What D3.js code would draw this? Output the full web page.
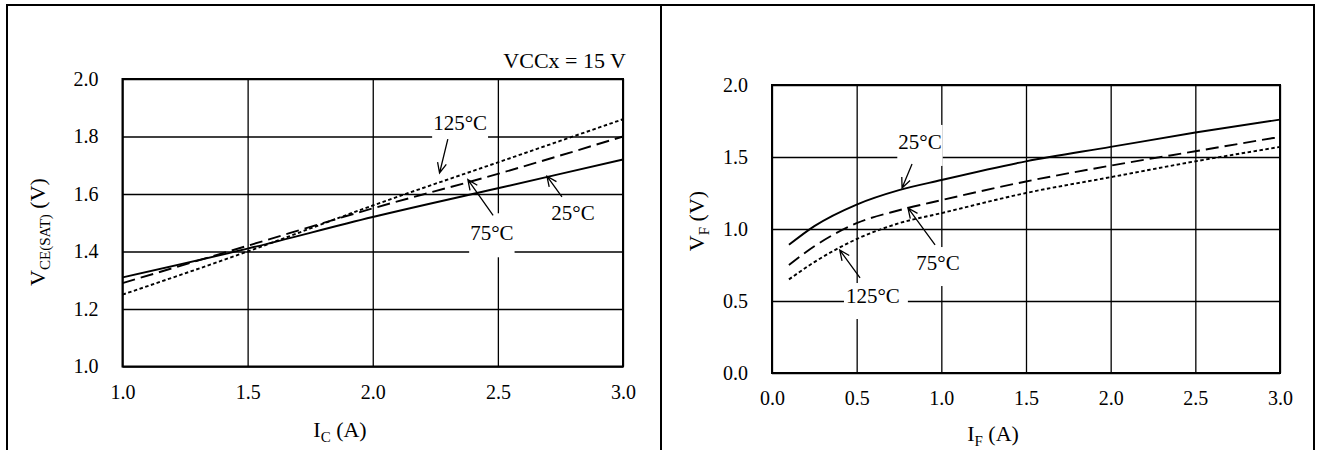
<!DOCTYPE html>
<html><head><meta charset="utf-8">
<script src="https://cdn.jsdelivr.net/npm/d3@7"></script>
<style>
body{margin:0;background:#fff;}
svg text{font-family:"Liberation Serif","Times New Roman",serif;fill:#000;}
</style></head>
<body><svg id="c" width="1320" height="450"></svg>
<script>
// ---- Left chart data: VCE(SAT) vs IC ----
const icValues = [1.0, 1.5, 2.0, 2.5, 3.0];
const vce25 = [1.31, 1.41, 1.52, 1.62, 1.72];
const vce75 = [1.29, 1.42, 1.55, 1.67, 1.80];
const vce125 = [1.25, 1.40, 1.56, 1.71, 1.86];
const leftXTicks = [1.0, 1.5, 2.0, 2.5, 3.0];
const leftYTicks = [1.0, 1.2, 1.4, 1.6, 1.8, 2.0];

// ---- Right chart data: VF vs IF ----
const ifValues = [0.1, 0.25, 0.5, 0.75, 1.0, 1.5, 2.0, 2.5, 3.0];
const vf25 = [0.89, 1.02, 1.17, 1.27, 1.34, 1.47, 1.57, 1.67, 1.76];
const vf75 = [0.75, 0.88, 1.04, 1.13, 1.20, 1.33, 1.44, 1.54, 1.64];
const vf125 = [0.65, 0.77, 0.93, 1.04, 1.11, 1.25, 1.36, 1.47, 1.57];
const rightXTicks = [0.0, 0.5, 1.0, 1.5, 2.0, 2.5, 3.0];
const rightYTicks = [0.0, 0.5, 1.0, 1.5, 2.0];

const seriesNames = ["25°C", "75°C", "125°C"];

const svg = d3.select("#c");
const FS = 20;

// outer frame
svg.append("path").attr("d","M7,450V5H1314V450M661,5V450")
  .attr("fill","none").attr("stroke","#000").attr("stroke-width",2);

function drawChart(cfg){
  const {x, y, xTicks, yTicks, xs, series, labels, xTitle, yTitle, xTitlePos, yTitlePos} = cfg;
  const g = svg.append("g");
  const [x0,x1] = x.range(), [y0,y1] = y.range(); // y0 bottom, y1 top
  const ax = d3.axisBottom(x).tickValues(xTicks).tickSize(-(y0-y1)).tickPadding(18)
    .tickFormat(d3.format(".1f"));
  const gx = g.append("g").attr("transform",`translate(0,${y0})`).call(ax);
  const ay = d3.axisLeft(y).tickValues(yTicks).tickSize(-(x1-x0)).tickPadding(24)
    .tickFormat(d3.format(".1f"));
  const gy = g.append("g").attr("transform",`translate(${x0},0)`).call(ay);
  [gx,gy].forEach(a=>{
    a.attr("font-family",null);
    a.select(".domain").remove();
    a.selectAll("line").attr("stroke","#000").attr("stroke-width",1.3);
    a.selectAll("text").attr("font-size",FS);
  });
  const lab = g.append("g");
  labels.forEach(L=>{
    const t = lab.append("text").attr("x",x(L.tx)).attr("y",y(L.ty))
      .attr("text-anchor","middle").attr("font-size",21).text(L.text);
    const b = t.node().getBBox();
    lab.insert("rect","text").attr("x",b.x-L.pad[0]).attr("y",b.y-L.pad[2])
      .attr("width",b.width+L.pad[0]+L.pad[1]).attr("height",b.height+L.pad[2]+L.pad[3])
      .attr("fill","#fff");
  });
  const dashes = [null,"13,6","3.5,2.5"];
  series.forEach((s,i)=>{
    const line = d3.line().x((d,j)=>x(xs[j])).y(d=>y(d)).curve(d3.curveMonotoneX);
    g.append("path").attr("d",line(s)).attr("fill","none").attr("stroke","#000")
      .attr("stroke-width",1.9).attr("stroke-dasharray",dashes[i]);
  });
  g.append("rect").attr("x",x0).attr("y",y1).attr("width",x1-x0).attr("height",y0-y1)
    .attr("fill","none").attr("stroke","#000").attr("stroke-width",2);
  lab.raise();
  labels.forEach(L=>{
    const ax0=x(L.from[0]), ay0=y(L.from[1]), ax1=x(L.to[0]), ay1=y(L.to[1]);
    const ang = Math.atan2(ay1-ay0, ax1-ax0), len=11, sp=0.42;
    const p = `M${ax0},${ay0}L${ax1},${ay1}`+
      `M${ax1-len*Math.cos(ang-sp)},${ay1-len*Math.sin(ang-sp)}L${ax1},${ay1}`+
      `L${ax1-len*Math.cos(ang+sp)},${ay1-len*Math.sin(ang+sp)}`;
    g.append("path").attr("d",p).attr("fill","none").attr("stroke","#000").attr("stroke-width",1.3);
  });
  const xt = g.append("text").attr("x",xTitlePos[0]).attr("y",xTitlePos[1])
    .attr("text-anchor","middle").attr("font-size",22);
  xt.append("tspan").text(xTitle[0]);
  xt.append("tspan").attr("font-size",15).attr("dy",5).text(xTitle[1]);
  xt.append("tspan").attr("dy",-5).text(xTitle[2]);
  const yt = g.append("text").attr("transform",`translate(${yTitlePos[0]},${yTitlePos[1]}) rotate(-90)`)
    .attr("text-anchor","middle").attr("font-size",22);
  yt.append("tspan").text(yTitle[0]);
  yt.append("tspan").attr("font-size",15).attr("dy",5).text(yTitle[1]);
  yt.append("tspan").attr("dy",-5).text(yTitle[2]);
  return g;
}

const xL = d3.scaleLinear([1,3],[122.5,623]);
const yL = d3.scaleLinear([1,2],[366.5,79]);
drawChart({
  x:xL, y:yL, xTicks:leftXTicks, yTicks:leftYTicks, xs:icValues,
  series:[vce25,vce75,vce125],
  labels:[
    {text:seriesNames[2], tx:2.349, ty:1.824, pad:[1,1,0,5], from:[2.30,1.791], to:[2.267,1.673]},
    {text:seriesNames[1], tx:2.476, ty:1.439, pad:[1,1,8,12], from:[2.481,1.526], to:[2.38,1.65]},
    {text:seriesNames[0], tx:2.80, ty:1.51, pad:[2,2,1,1], from:[2.756,1.59], to:[2.696,1.662]}
  ],
  xTitle:["I","C"," (A)"], yTitle:["V","CE(SAT)"," (V)"],
  xTitlePos:[340,437], yTitlePos:[45,232]
});
svg.append("text").attr("x",626).attr("y",68).attr("text-anchor","end")
  .attr("font-size",22).text("VCCx = 15 V");

const xR = d3.scaleLinear([0,3],[772,1280]);
const yR = d3.scaleLinear([0,2],[373,85]);
drawChart({
  x:xR, y:yR, xTicks:rightXTicks, yTicks:rightYTicks, xs:ifValues,
  series:[vf25,vf75,vf125],
  labels:[
    {text:seriesNames[0], tx:0.874, ty:1.556, pad:[1,1,5,12], from:[0.827,1.451], to:[0.768,1.285]},
    {text:seriesNames[1], tx:0.98, ty:0.715, pad:[1,1,4,11], from:[0.963,0.889], to:[0.803,1.146]},
    {text:seriesNames[2], tx:0.596, ty:0.486, pad:[2,8,1,11], from:[0.52,0.66], to:[0.40,0.854]}
  ],
  xTitle:["I","F"," (A)"], yTitle:["V","F"," (V)"],
  xTitlePos:[993,441], yTitlePos:[704,221]
});
</script></body></html>
